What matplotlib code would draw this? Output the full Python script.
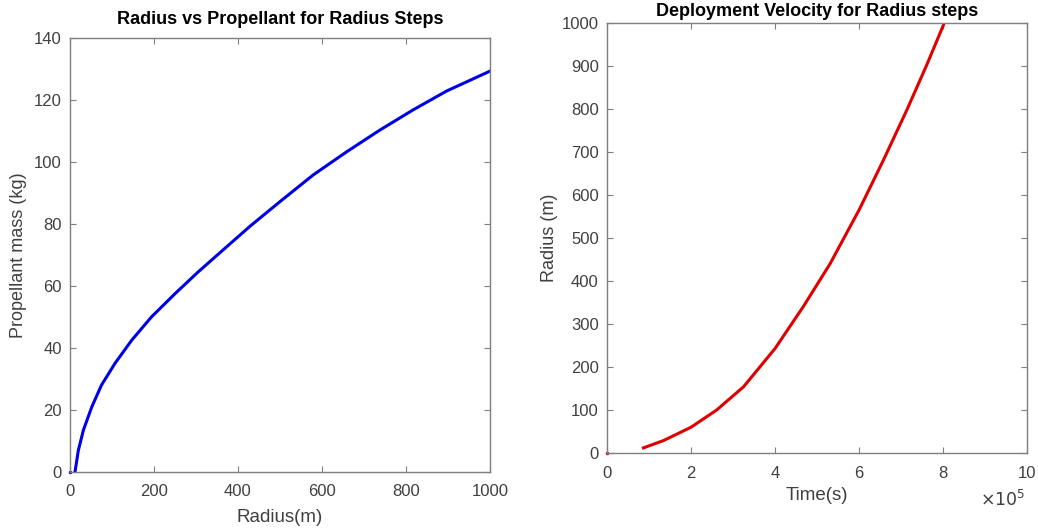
import numpy as np
import matplotlib.pyplot as plt
from matplotlib.ticker import FuncFormatter

plt.rcParams['font.family'] = ['Liberation Sans', 'DejaVu Sans']

# left panel: radius vs propellant mass
radius_m = [12, 20, 32, 52, 75, 107, 147, 194, 250, 305, 361, 429, 500,
            579, 659, 738, 817, 897, 1000]
propellant_kg = [0, 7, 13.5, 21, 28, 35, 42.5, 50, 57.5, 64.5, 71.2, 79.3,
                 87.2, 95.8, 103.3, 110.3, 116.8, 122.9, 129.3]

# right panel: time vs radius
time_s = [0.867e5, 1.345e5, 2.0e5, 2.61e5, 3.25e5, 4.0e5, 4.67e5, 5.31e5,
          6.0e5, 6.58e5, 7.14e5, 7.61e5, 8.03e5]
radius_t = [12, 29, 60, 100, 154, 243, 340, 440, 565, 681, 798, 902, 1000]

axis_col = '#7f7f7f'
text_col = '#404040'

fig = plt.figure(figsize=(10.38, 5.29), dpi=100)
ax1 = fig.add_axes([0.0674, 0.1078, 0.4046, 0.8204])
ax2 = fig.add_axes([0.5848, 0.1436, 0.4046, 0.8128])


def style(ax):
    for s in ax.spines.values():
        s.set_color(axis_col)
        s.set_linewidth(1.0)
    ax.tick_params(direction='in', top=True, right=True, length=4,
                   color=axis_col, labelcolor=text_col, labelsize=12)
    ax.tick_params(axis='x', pad=9)
    ax.tick_params(axis='y', pad=6)


# left
ax1.plot(radius_m, propellant_kg, color='#0000e6', lw=2.2)
ax1.plot([0], [0], '.', color='#0000e6', ms=3, clip_on=False)
ax1.set_xlim(0, 1000)
ax1.set_ylim(0, 140)
ax1.set_xticks(np.arange(0, 1001, 200))
ax1.set_yticks(np.arange(0, 141, 20))
style(ax1)
ax1.set_title('Radius vs Propellant for Radius Steps', fontsize=13,
              fontweight='bold', pad=10)
ax1.set_xlabel('Radius(m)', fontsize=13.5, color=text_col, labelpad=7)
ax1.set_ylabel('Propellant mass (kg)', fontsize=13, color=text_col,
               labelpad=5)

# right
ax2.plot(time_s, radius_t, color='#e00000', lw=2.2)
ax2.plot([0], [0], '.', color='#e00000', ms=3, clip_on=False)
ax2.set_xlim(0, 1e6)
ax2.set_ylim(0, 1000)
ax2.set_xticks(np.arange(0, 1.01e6, 2e5))
ax2.set_yticks(np.arange(0, 1001, 100))
ax2.xaxis.set_major_formatter(FuncFormatter(lambda v, p: f'{v / 1e5:g}'))
style(ax2)
ax2.set_title('Deployment Velocity for Radius steps', fontsize=13,
              fontweight='bold', pad=5)
ax2.set_xlabel('Time(s)', fontsize=13.5, color=text_col, labelpad=5)
ax2.set_ylabel('Radius (m)', fontsize=13, color=text_col, labelpad=3)
ax2.text(0.995, -0.083, r'$\times10^5$', transform=ax2.transAxes,
         ha='right', va='top', fontsize=12.5, color=text_col)

fig.savefig('out.png', dpi=100)
